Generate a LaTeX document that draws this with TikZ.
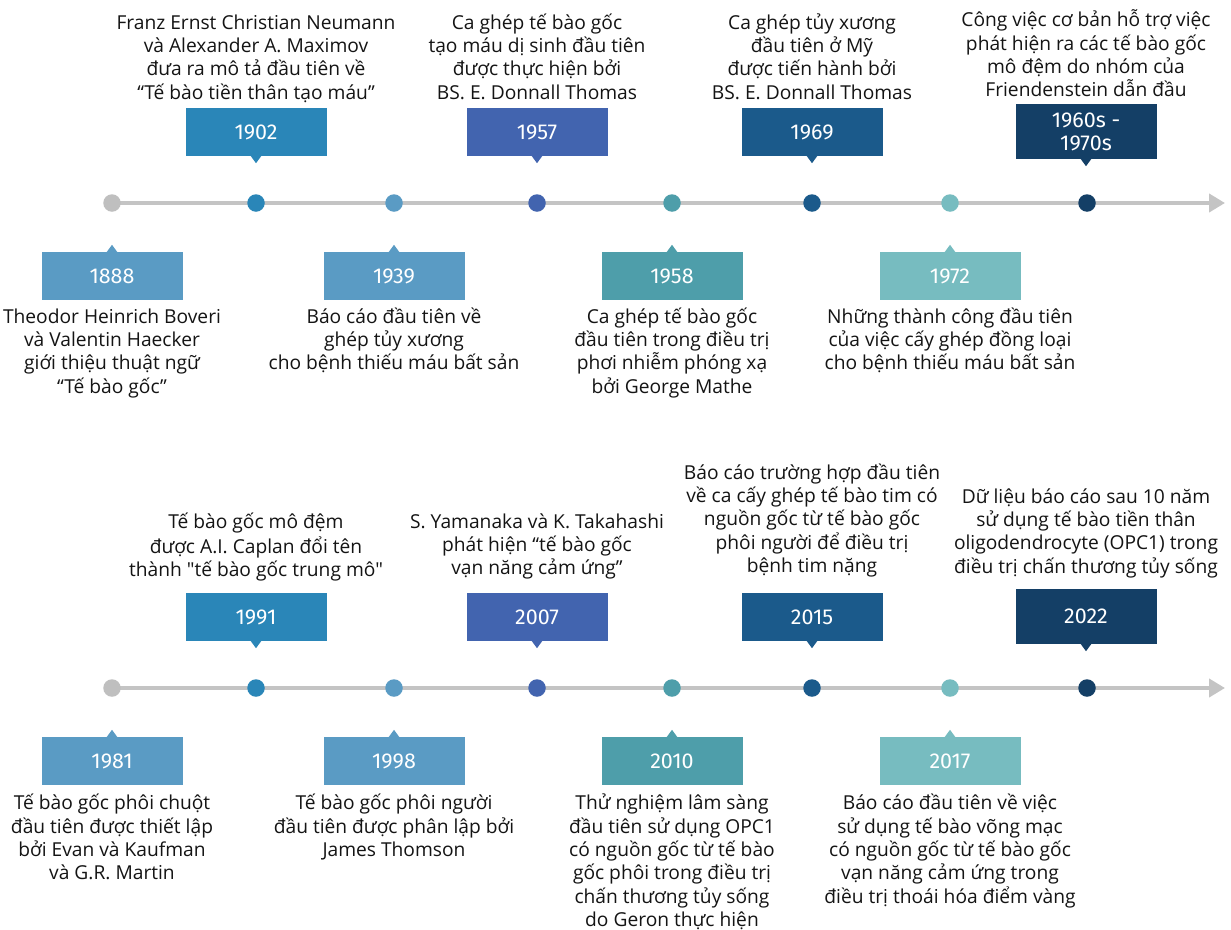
\documentclass[tikz,border=0pt]{standalone}
\usepackage{fontspec}
\newfontfamily\descfont{Open Sans}
\newfontfamily\yearfont{Fira Sans}
\usetikzlibrary{arrows.meta,backgrounds}
\definecolor{cgray}{HTML}{BFBFBF}
\definecolor{linecol}{HTML}{C4C4C4}
\definecolor{cA}{HTML}{2A86B8}
\definecolor{cB}{HTML}{5A9BC4}
\definecolor{cC}{HTML}{4264AF}
\definecolor{cD}{HTML}{4E9EAA}
\definecolor{cE}{HTML}{1B5A8B}
\definecolor{cF}{HTML}{77BCC0}
\definecolor{cG}{HTML}{143F66}
\definecolor{desccol}{HTML}{141414}
\newcommand{\ptrdown}[2]{\fill[#2] ([xshift=-5.5pt,yshift=0.5pt]#1.south) -- ([xshift=5.5pt,yshift=0.5pt]#1.south) -- ([yshift=-7pt]#1.south) -- cycle;}
\newcommand{\ptrup}[2]{\fill[#2] ([xshift=-5.5pt,yshift=-0.5pt]#1.north) -- ([xshift=5.5pt,yshift=-0.5pt]#1.north) -- ([yshift=7pt]#1.north) -- cycle;}
\begin{document}
\begin{tikzpicture}[x=1pt,y=-1pt,
  tdot/.style={circle, minimum size=17.5pt, inner sep=0pt, fill=#1},
  yearbox/.style={rectangle, minimum width=141pt, minimum height=48pt, inner sep=0pt, fill=#1, text=white, align=center, font=\yearfont\fontsize{21.5}{23}\selectfont},
  tallbox/.style={yearbox=#1, minimum height=55pt},
  desctext/.style={align=center, inner sep=0pt, anchor=north, text=desccol, font=\descfont\fontsize{19.2}{23.3}\selectfont},
  timeline/.style={line width=4pt, draw=linecol, -{Triangle[length=16pt,width=18pt]}}]
\useasboundingbox (0,0) rectangle (1231,929);
\begin{scope}[on background layer]
\fill[white] (0,0) rectangle (1231,929);
\end{scope}

% ---------------- top timeline ----------------
\node[tdot=cgray] (t0) at (112,203) {};
\node[tdot=cA] (t1) at (256,203) {};
\node[tdot=cB] (t2) at (394,203) {};
\node[tdot=cC] (t3) at (537,203) {};
\node[tdot=cD] (t4) at (672,203) {};
\node[tdot=cE] (t5) at (812,203) {};
\node[tdot=cF] (t6) at (950,203) {};
\node[tdot=cG] (t7) at (1087,203) {};
\coordinate (tend) at (1225,203);
\begin{scope}[on background layer]
\draw[timeline] (t0.center) -- (tend);
\end{scope}

\node[yearbox=cA] (y1902) at (256,132) {1902};
\node[yearbox=cC] (y1957) at (537,132) {1957};
\node[yearbox=cE] (y1969) at (812,132) {1969};
\node[tallbox=cG] (y1960) at (1086,131.5) {1960s -\\1970s};
\ptrdown{y1902}{cA}
\ptrdown{y1957}{cC}
\ptrdown{y1969}{cE}
\ptrdown{y1960}{cG}

\node[yearbox=cB] (y1888) at (112,276) {1888};
\node[yearbox=cB] (y1939) at (394,276) {1939};
\node[yearbox=cD] (y1958) at (672,276) {1958};
\node[yearbox=cF] (y1972) at (950,276) {1972};
\ptrup{y1888}{cB}
\ptrup{y1939}{cB}
\ptrup{y1958}{cD}
\ptrup{y1972}{cF}

\node[desctext] (d1902) at (256,12.8) {\strut Franz Ernst Christian Neumann\\và Alexander A. Maximov\\đưa ra mô tả đầu tiên về\\“Tế bào tiền thân tạo máu”};
\node[desctext] (d1957) at (537,12.8) {\strut Ca ghép tế bào gốc\\tạo máu dị sinh đầu tiên\\được thực hiện bởi\\BS. E. Donnall Thomas};
\node[desctext] (d1969) at (812,12.8) {\strut Ca ghép tủy xương\\đầu tiên ở Mỹ\\được tiến hành bởi\\BS. E. Donnall Thomas};
\node[desctext] (d1960) at (1086,9.8) {\strut Công việc cơ bản hỗ trợ việc\\phát hiện ra các tế bào gốc\\mô đệm do nhóm của\\Friendenstein dẫn đầu};

\node[desctext] (d1888) at (112,306.8) {\strut Theodor Heinrich Boveri\\và Valentin Haecker\\giới thiệu thuật ngữ\\“Tế bào gốc”};
\node[desctext] (d1939) at (394,306.8) {\strut Báo cáo đầu tiên về\\ghép tủy xương\\cho bệnh thiếu máu bất sản};
\node[desctext] (d1958) at (672,306.8) {\strut Ca ghép tế bào gốc\\đầu tiên trong điều trị\\phơi nhiễm phóng xạ\\bởi George Mathe};
\node[desctext] (d1972) at (950,306.8) {\strut Những thành công đầu tiên\\của việc cấy ghép đồng loại\\cho bệnh thiếu máu bất sản};

% ---------------- bottom timeline ----------------
\node[tdot=cgray] (b0) at (112,688) {};
\node[tdot=cA] (b1) at (256,688) {};
\node[tdot=cB] (b2) at (394,688) {};
\node[tdot=cC] (b3) at (537,688) {};
\node[tdot=cD] (b4) at (672,688) {};
\node[tdot=cE] (b5) at (812,688) {};
\node[tdot=cF] (b6) at (950,688) {};
\node[tdot=cG] (b7) at (1087,688) {};
\coordinate (bend) at (1225,688);
\begin{scope}[on background layer]
\draw[timeline] (b0.center) -- (bend);
\end{scope}

\node[yearbox=cA] (y1991) at (256,617) {1991};
\node[yearbox=cC] (y2007) at (537,617) {2007};
\node[yearbox=cE] (y2015) at (812,617) {2015};
\node[tallbox=cG] (y2022) at (1086,616.5) {2022};
\ptrdown{y1991}{cA}
\ptrdown{y2007}{cC}
\ptrdown{y2015}{cE}
\ptrdown{y2022}{cG}

\node[yearbox=cB] (y1981) at (112,761) {1981};
\node[yearbox=cB] (y1998) at (394,761) {1998};
\node[yearbox=cD] (y2010) at (672,761) {2010};
\node[yearbox=cF] (y2017) at (950,761) {2017};
\ptrup{y1981}{cB}
\ptrup{y1998}{cB}
\ptrup{y2010}{cD}
\ptrup{y2017}{cF}

\node[desctext] (d1991) at (256,511.8) {\strut Tế bào gốc mô đệm\\được A.I. Caplan đổi tên\\thành "tế bào gốc trung mô"};
\node[desctext] (d2007) at (537,511.8) {\strut S. Yamanaka và K. Takahashi\\phát hiện “tế bào gốc\\vạn năng cảm ứng”};
\node[desctext] (d2015) at (812,462.8) {\strut Báo cáo trường hợp đầu tiên\\về ca cấy ghép tế bào tim có\\nguồn gốc từ tế bào gốc\\phôi người để điều trị\\bệnh tim nặng};
\node[desctext] (d2022) at (1086,486.8) {\strut Dữ liệu báo cáo sau 10 năm\\sử dụng tế bào tiền thân\\oligodendrocyte (OPC1) trong\\điều trị chấn thương tủy sống};

\node[desctext] (d1981) at (112,793.3) {\strut Tế bào gốc phôi chuột\\đầu tiên được thiết lập\\bởi Evan và Kaufman\\và G.R. Martin};
\node[desctext] (d1998) at (394,793.3) {\strut Tế bào gốc phôi người\\đầu tiên được phân lập bởi\\James Thomson};
\node[desctext] (d2010) at (672,793.3) {\strut Thử nghiệm lâm sàng\\đầu tiên sử dụng OPC1\\có nguồn gốc từ tế bào\\gốc phôi trong điều trị\\chấn thương tủy sống\\do Geron thực hiện};
\node[desctext] (d2017) at (950,793.3) {\strut Báo cáo đầu tiên về việc\\sử dụng tế bào võng mạc\\có nguồn gốc từ tế bào gốc\\vạn năng cảm ứng trong\\điều trị thoái hóa điểm vàng};
\end{tikzpicture}
\end{document}
